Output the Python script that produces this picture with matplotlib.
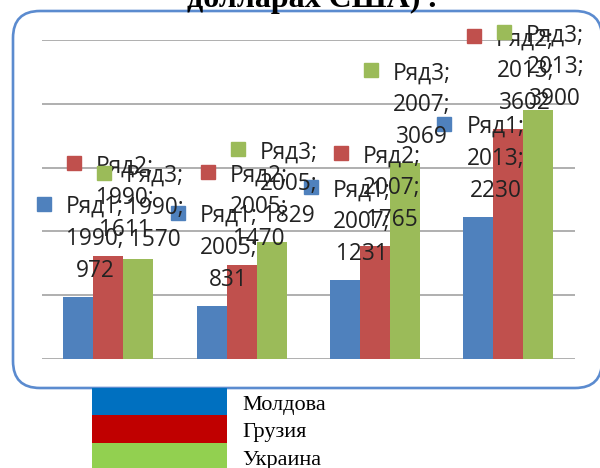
import matplotlib
matplotlib.use("Agg")
import matplotlib.pyplot as plt
from matplotlib.patches import FancyBboxPatch, Rectangle
from matplotlib.transforms import IdentityTransform, offset_copy

# ---- data ----
categories = ['1990', '2005', '2007', '2013']
series_names = ['Ряд1', 'Ряд2', 'Ряд3']
moldova = [972, 831, 1231, 2230]
georgia = [1611, 1470, 1765, 3602]
ukraine = [1570, 1829, 3069, 3900]
legend_labels = ['Молдова', 'Грузия', 'Украина']
title_text = 'долларах США) .'

series_values = [moldova, georgia, ukraine]
bar_colors = ['#4F81BD', '#C0504D', '#9BBB59']
legend_colors = ['#0070C0', '#C00000', '#92D050']

W, H = 600, 468
DPI = 100
fig = plt.figure(figsize=(W / DPI, H / DPI), dpi=DPI)
fig.patch.set_facecolor('white')

# rounded border (pixel coordinates, origin bottom-left)
border = FancyBboxPatch((13, H - 388), 589, 377,
                        boxstyle="round,pad=0,rounding_size=27",
                        transform=IdentityTransform(), facecolor='white',
                        edgecolor='#5B8BCF', linewidth=1.9, zorder=0)
fig.add_artist(border)

# title (cut off at top)
fig.text(312 / W, 1 - 7 / H, title_text, ha='center', va='baseline',
         fontfamily='Liberation Serif', fontweight='bold', fontsize=23,
         color='black')

# axes
left_px, right_px, top_px, bot_px = 41.5, 575, 40, 359
ax = fig.add_axes([left_px / W, 1 - bot_px / H, (right_px - left_px) / W,
                   (bot_px - top_px) / H])
ax.patch.set_alpha(0)
ax.set_xlim(-0.5, len(categories) - 0.5)
ax.set_ylim(0, 5000)
ax.set_yticks(range(0, 5001, 1000))
ax.grid(axis='y', color='#9A9A9A', linewidth=1.1, zorder=0)
ax.set_axisbelow(True)
for s in ax.spines.values():
    s.set_visible(False)
ax.tick_params(left=False, bottom=False, labelleft=False, labelbottom=False)

bw = 0.2247
xs = list(range(len(categories)))
for si, (vals, col) in enumerate(zip(series_values, bar_colors)):
    pos = [x + (si - 1) * bw for x in xs]
    ax.bar(pos, vals, width=bw, color=col, zorder=2)

# data labels with legend keys (offsets in pixels from bar top)
label_dx = 17
label_dy = -92
dy_adjust = {(2, 0): 7, (2, 3): 15}
line_gap = 32
font_kw = dict(fontfamily='Open Sans', fontsize=16.3, color='#222222')
z = 5
for si, (vals, col) in enumerate(zip(series_values, bar_colors)):
    for ci, v in enumerate(vals):
        bx = ci + (si - 1) * bw
        first = -(label_dy + dy_adjust.get((si, ci), 0))  # pixels above top
        # key marker
        mt = offset_copy(ax.transData, fig=fig, x=label_dx - 51,
                         y=first + 1, units='dots')
        ax.plot([bx], [v], marker='s', markersize=10.5, color=col,
                transform=mt, zorder=z, clip_on=False, linestyle='none')
        lines = [f'{series_names[si]};', f'{categories[ci]};', f'{v}']
        for li, t in enumerate(lines):
            ax.annotate(t, xy=(bx, v), xytext=(label_dx, first - 8 - li * line_gap),
                        textcoords='offset pixels', ha='center', va='baseline',
                        zorder=z, annotation_clip=False, **font_kw)
        z += 1

# legend below the chart (figure pixel coordinates)
leg_x, leg_w = 92, 135
leg_tops = [388, 415, 443]
leg_h = [27, 28, 28]
for i, (lab, col) in enumerate(zip(legend_labels, legend_colors)):
    y0 = H - leg_tops[i] - leg_h[i]
    fig.add_artist(Rectangle((leg_x, y0), leg_w, leg_h[i],
                             transform=IdentityTransform(), facecolor=col,
                             edgecolor='none', zorder=3))
    fig.text(242 / W, 1 - (leg_tops[i] + 22) / H, lab, ha='left',
             va='baseline', fontfamily='Liberation Serif', fontsize=16,
             color='black')

fig.savefig('out.png', dpi=DPI, facecolor='white')
